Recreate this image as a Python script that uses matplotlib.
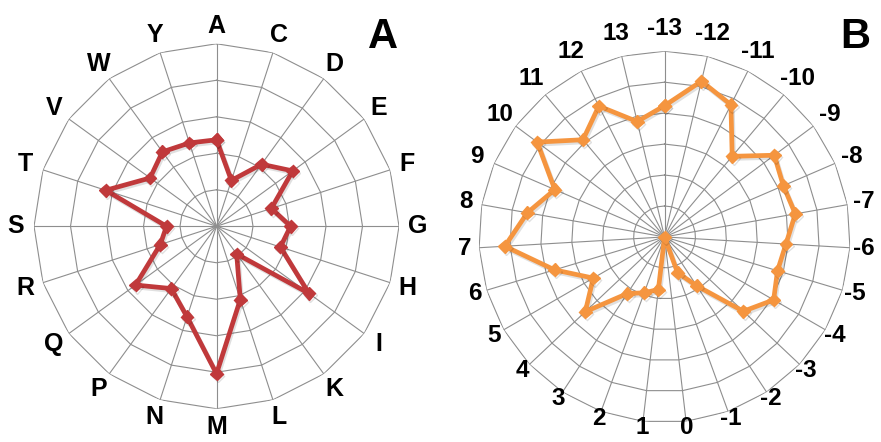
import numpy as np
import matplotlib
matplotlib.use("Agg")
import matplotlib.pyplot as plt
import matplotlib.patheffects as pe

plt.rcParams['font.family'] = ['Liberation Sans', 'DejaVu Sans']

# panel A: amino acids
aa_labels = ['A', 'C', 'D', 'E', 'F', 'G', 'H', 'I', 'K', 'L',
             'M', 'N', 'P', 'Q', 'R', 'S', 'T', 'V', 'W', 'Y']
aa_values = [2.37, 1.32, 2.1, 2.58, 1.58, 2.03, 1.84, 3.13, 0.94, 2.11,
             4.04, 2.61, 2.11, 2.74, 1.62, 1.37, 3.19, 2.25, 2.52, 2.4]
aa_rings = [1, 2, 3, 4, 5]

# panel B: positions -13..13
pos_labels = [str(i) for i in range(-13, 14)]
pos_values = [4.24, 5.17, 4.78, 3.4, 4.42, 4.18, 4.29, 3.93, 3.81, 4.07,
              3.5, 1.89, 1.23, 0.0, 1.71, 1.92, 2.19, 3.52, 2.66, 3.71,
              5.17, 4.5, 3.86, 5.13, 4.1, 4.73, 3.83]
pos_rings = [1, 2, 3, 4, 5, 6]

GRID = '#8e8e8e'


def radar(ax, labels, values, rings, color, fsize, lab_r):
    n = len(labels)
    ang = np.arange(n) * 2 * np.pi / n
    ax.set_theta_zero_location('N')
    ax.set_theta_direction(-1)
    ax.set_ylim(0, rings[-1])
    ax.set_yticks([])
    ax.set_xticks(ang)
    ax.set_xticklabels([])
    ax.xaxis.grid(True, color=GRID, lw=0.8)
    ax.spines['polar'].set_visible(False)
    ax.tick_params(axis='x', length=0)

    closed = np.append(ang, ang[0])
    for v in rings:
        ax.plot(closed, [v] * (n + 1), color=GRID, lw=0.8, zorder=1)

    vals = np.append(values, values[0])
    ax.plot(closed, vals, color=color, lw=3.4, marker='D', ms=6.5,
            zorder=3, clip_on=False,
            path_effects=[pe.SimpleLineShadow(offset=(1, -1.5), alpha=0.12),
                          pe.Normal()])

    for a, lab in zip(ang, labels):
        ax.text(a, rings[-1] * lab_r(a), lab, ha='center', va='center',
                fontsize=fsize, fontweight='bold')


fig = plt.figure(figsize=(8.81, 4.42), dpi=100)

ax1 = fig.add_axes([0.0386, 0.0752, 0.4143, 0.8258], projection='polar')
radar(ax1, aa_labels, aa_values, aa_rings, '#C0393B', 18,
      lambda a: 1.1)

ax2 = fig.add_axes([0.5435, 0.0438, 0.4216, 0.8403], projection='polar')
radar(ax2, pos_labels, pos_values, pos_rings, '#F5953F', 17.5,
      lambda a: 1.08 + 0.045 * np.cos(a))

fig.text(383 / 881, 1 - 37 / 442, 'A', fontsize=30, fontweight='bold',
         ha='center', va='center')
fig.text(855 / 881, 1 - 37 / 442, 'B', fontsize=30, fontweight='bold',
         ha='center', va='center')

fig.savefig('out.png', dpi=100)
